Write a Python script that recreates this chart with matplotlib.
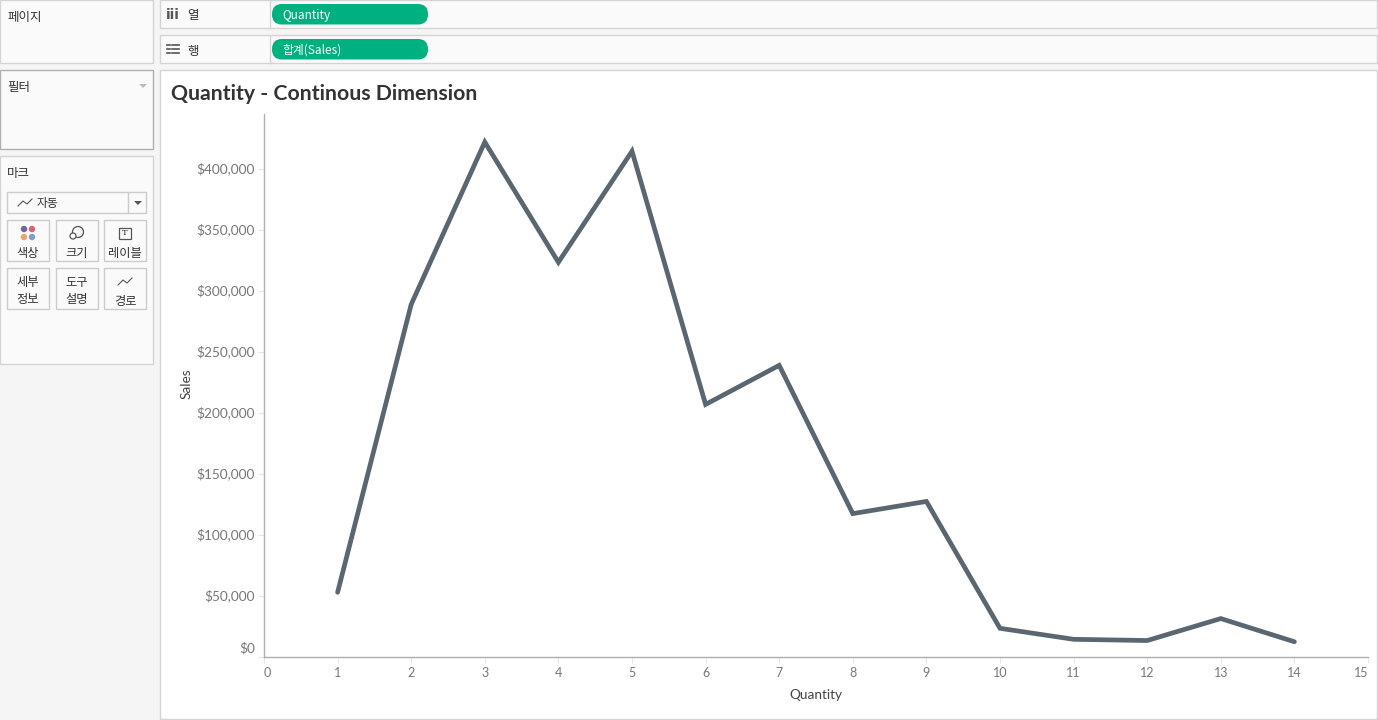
import matplotlib
matplotlib.use('Agg')
import matplotlib.pyplot as plt
from matplotlib.patches import Rectangle, FancyBboxPatch, Circle, Polygon
from matplotlib.ticker import FuncFormatter
from matplotlib.transforms import ScaledTranslation

quantity = [1, 2, 3, 4, 5, 6, 7, 8, 9, 10, 11, 12, 13, 14]
sales = [53000, 289000, 422000, 323500, 414500, 207000, 239000,
         117500, 127500, 23500, 14500, 13500, 31500, 12500]
x_ticks = list(range(0, 16))
y_ticks = [0, 50000, 100000, 150000, 200000, 250000, 300000, 350000, 400000]

title = 'Quantity - Continous Dimension'
mark_cards = [(7, 220, '색상'), (56, 220, '크기'), (104, 220, '레이블'),
              (7, 268, '세부\n정보'), (56, 268, '도구\n설명'), (104, 268, '경로')]

W, H = 1378, 720
KR = ['Noto Sans CJK KR', 'DejaVu Sans']
LAT = ['Lato', 'DejaVu Sans']
GREY = '#777777'

fig = plt.figure(figsize=(W / 100, H / 100), dpi=100, facecolor='#f5f5f5')

# whole-window overlay in pixel coordinates for the Tableau chrome
ui = fig.add_axes([0, 0, 1, 1], zorder=0)
ui.set_xlim(0, W)
ui.set_ylim(H, 0)
ui.axis('off')


def panel(x, y, w, h, edge='#d4d4d4', face='#fafafa'):
    ui.add_patch(Rectangle((x, y), w, h, fc=face, ec=edge, lw=1))


def label(x, y, s, size=9, color='#333333', ha='left', **kw):
    ui.text(x, y, s, fontsize=size, color=color, ha=ha, va='center', family=KR, **kw)


def sparkline(x, y, color='#555555'):
    ui.plot([x, x + 5, x + 9, x + 14], [y + 3, y - 2, y + 1, y - 4], color=color, lw=.8)


# left side panels
panel(0, 0, 153, 63)
label(7, 18, '페이지')
panel(0, 70, 153, 79, edge='#b0b0b0')
label(7, 88, '필터')
ui.add_patch(Polygon([[139, 84], [147, 84], [143, 88]], fc='#bdbdbd', ec='none'))
panel(0, 156, 153, 208)
label(7, 173, '마크')

# mark type dropdown
panel(7, 192, 139, 21, edge='#cccccc')
ui.plot([128, 128], [193, 213], color='#cccccc', lw=1)
sparkline(18, 203)
label(37, 204, '자동', size=8.5)
ui.add_patch(Polygon([[134, 201], [142, 201], [138, 205]], fc='#555555', ec='none'))

# mark cards
for cx, cy, txt in mark_cards:
    panel(cx, cy, 42, 41, edge='#cccccc')
    if '\n' in txt:
        label(cx + 21, cy + 23, txt, size=8.8, ha='center', linespacing=1.43)
    else:
        label(cx + 21, cy + 34, txt, size=8.8, ha='center')
for cx, cy, col in [(24, 229, '#7b6294'), (32, 229, '#e0606e'),
                    (24, 237, '#f2a26e'), (32, 237, '#7f9fc9')]:
    ui.add_patch(Circle((cx, cy), 3.2, fc=col, ec='none'))
ui.add_patch(Circle((78, 232), 5.5, fc='none', ec='#555555', lw=.9))
ui.add_patch(Circle((73, 236), 3, fc='white', ec='#555555', lw=.9, zorder=3))
ui.add_patch(Rectangle((118.5, 227.5), 12, 11, fc='none', ec='#555555', lw=.9))
ui.text(124.5, 233, 'T', fontsize=6, family='DejaVu Serif', ha='center', va='center', color='#333333')
sparkline(118, 282)

# shelves
for y, h, name, pill in [(0, 28, '열', 'Quantity'), (35, 28, '행', '합계(Sales)')]:
    panel(160, y, 1217, h)
    ui.plot([269.5, 269.5], [y + 1, y + h], color='#d4d4d4', lw=1)
    label(187, y + 16, name)
    ui.add_patch(FancyBboxPatch((272, y + 4), 156, 20.5, boxstyle='round,pad=0,rounding_size=10',
                                fc='#00b180', ec='none'))
    label(282, y + 15, pill, size=8.5, color='white')
ui.text(173, 15, 'iii', fontsize=10, color='#555555', ha='center', va='center',
        family='DejaVu Sans', fontweight='bold')
for yy in [44.5, 48.5, 52.5]:
    ui.plot([167, 170], [yy, yy], color='#555555', lw=1.2)
    ui.plot([172, 179], [yy, yy], color='#555555', lw=1.2)

# main view
panel(160, 70, 1217, 649, face='white')
ui.text(171, 94, title, fontsize=15.3, fontweight='bold', color='#333333', va='center', family=LAT)

# the chart itself, axes box placed on the reference's pixel positions
left, right, top, bottom = 264, 1368, 114, 657
ax = fig.add_axes([left / W, 1 - bottom / H, (right - left) / W, (bottom - top) / H], zorder=1)
ax.patch.set_alpha(0)
ax.plot(quantity, sales, color='#5b6770', lw=3.4, solid_capstyle='round', solid_joinstyle='miter')
ax.set_xlim(0, 15)
ax.set_ylim(0, 445000)
ax.set_xticks(x_ticks)
ax.set_yticks(y_ticks)
ax.yaxis.set_major_formatter(FuncFormatter(lambda v, _: f'${v:,.0f}'))
for side in ['top', 'right']:
    ax.spines[side].set_visible(False)
for side in ['left', 'bottom']:
    ax.spines[side].set_color('#b0b0b0')
    ax.spines[side].set_linewidth(1)
ax.tick_params(axis='both', length=4, width=.8, color='#e6e6e6', labelcolor=GREY)
ax.tick_params(axis='x', pad=3, labelsize=9)
ax.tick_params(axis='y', pad=2.5, labelsize=9.8)
for t in ax.get_xticklabels() + ax.get_yticklabels():
    t.set_family(LAT)
ax.get_xticklabels()[0].set_ha('left')
ax.get_xticklabels()[-1].set_ha('right')
ax.get_yticklabels()[0].set_va('bottom')
up = ScaledTranslation(0, 1 / 100, fig.dpi_scale_trans)
for t in ax.get_yticklabels():
    t.set_transform(t.get_transform() + up)
zero_label = ax.get_yticklabels()[0]
zero_label.set_transform(zero_label.get_transform() + ScaledTranslation(0, 2 / 100, fig.dpi_scale_trans))
ax.set_xlabel('Quantity', fontsize=9.8, color='#444444', family=LAT)
ax.set_ylabel('Sales', fontsize=9.8, color='#444444', family=LAT)
ax.xaxis.set_label_coords((816 - left) / (right - left), -(695 - bottom) / (bottom - top), transform=ax.transAxes)
ax.yaxis.set_label_coords(-(left - 187) / (right - left), (bottom - 384) / (bottom - top), transform=ax.transAxes)
ax.xaxis.label.set_va('center')
ax.yaxis.label.set_va('center')

fig.savefig('out.png', dpi=100, facecolor=fig.get_facecolor())
